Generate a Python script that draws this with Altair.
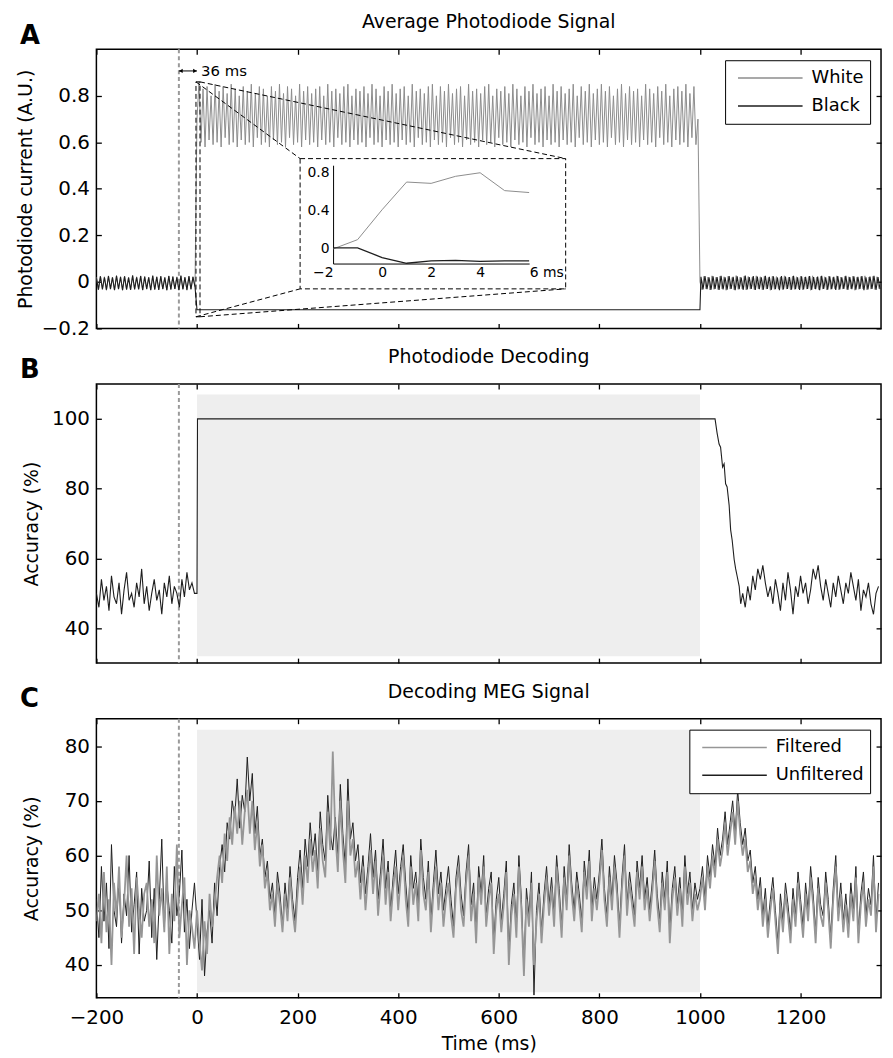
import altair as alt
import pandas as pd

FONT = "DejaVu Sans"

# ---------------- shared axis values ----------------
X_DOMAIN = [-200, 1360]
X_TICKS = [-200, 0, 200, 400, 600, 800, 1000, 1200]
MARK_T = -36  # dashed reference line (ms)

A_DOMAIN = [-0.2, 1.0]
A_TICKS = [-0.2, 0, 0.2, 0.4, 0.6, 0.8]
B_DOMAIN = [30, 110]
B_TICKS = [40, 60, 80, 100]
C_DOMAIN = [34, 85]
C_TICKS = [40, 50, 60, 70, 80]

# ---------------- Panel A: photodiode signal (4 ms samples) ----------------
a_pre_white = [0.02,-0.035,0.025,-0.03,0.022,-0.036,0.026,-0.032,0.021,-0.034,
               0.027,-0.03,0.023,-0.037,0.025,-0.031,0.02,-0.035,0.028,-0.033,
               0.022,-0.03,0.026,-0.036,0.024,-0.032,0.021,-0.034,0.027,-0.031,
               0.023,-0.035,0.025,-0.03,0.02,-0.037,0.026,-0.033,0.024,-0.031,
               0.022,-0.034,0.027,-0.03,0.021,-0.036,0.025,-0.032,0.023,-0.02]
a_pre_black = [0.018,-0.033,0.024,-0.032,0.02,-0.034,0.025,-0.03,0.019,-0.036,
               0.026,-0.031,0.021,-0.035,0.024,-0.033,0.018,-0.034,0.027,-0.031,
               0.02,-0.032,0.025,-0.035,0.022,-0.03,0.019,-0.036,0.026,-0.033,
               0.021,-0.034,0.024,-0.031,0.018,-0.035,0.025,-0.032,0.022,-0.03,
               0.02,-0.036,0.026,-0.032,0.019,-0.034,0.024,-0.031,0.021,-0.02]
a_on_white = [0.70,0.86,0.60,0.83,0.58,0.84,0.61,0.80,0.59,0.85,0.60,0.82,0.58,0.84,0.62,0.81,0.59,0.85,0.60,0.83,
              0.58,0.80,0.61,0.84,0.59,0.82,0.60,0.85,0.58,0.81,0.62,0.84,0.59,0.83,0.60,0.80,0.58,0.84,0.61,0.82,
              0.59,0.85,0.60,0.81,0.58,0.84,0.62,0.83,0.59,0.80,0.60,0.85,0.58,0.82,0.61,0.84,0.59,0.81,0.60,0.83,
              0.58,0.84,0.61,0.80,0.59,0.85,0.60,0.82,0.58,0.83,0.62,0.81,0.59,0.84,0.60,0.85,0.58,0.80,0.61,0.83,
              0.59,0.82,0.60,0.84,0.58,0.81,0.62,0.85,0.59,0.83,0.60,0.80,0.58,0.84,0.61,0.82,0.59,0.85,0.60,0.81,
              0.58,0.83,0.61,0.84,0.59,0.80,0.60,0.85,0.58,0.82,0.62,0.83,0.59,0.81,0.60,0.84,0.58,0.85,0.61,0.80,
              0.59,0.84,0.60,0.82,0.58,0.85,0.62,0.81,0.59,0.83,0.60,0.84,0.58,0.80,0.61,0.85,0.59,0.82,0.60,0.83,
              0.58,0.81,0.61,0.84,0.59,0.85,0.60,0.80,0.58,0.83,0.62,0.82,0.59,0.84,0.60,0.81,0.58,0.85,0.61,0.83,
              0.59,0.80,0.60,0.84,0.58,0.82,0.62,0.85,0.59,0.81,0.60,0.83,0.58,0.84,0.61,0.80,0.59,0.85,0.60,0.82,
              0.58,0.84,0.61,0.81,0.59,0.83,0.60,0.85,0.58,0.80,0.62,0.84,0.59,0.82,0.60,0.85,0.58,0.81,0.61,0.83,
              0.59,0.85,0.60,0.82,0.58,0.84,0.62,0.80,0.59,0.83,0.60,0.85,0.58,0.81,0.61,0.84,0.59,0.82,0.60,0.83,
              0.58,0.80,0.61,0.85,0.59,0.83,0.60,0.81,0.58,0.84,0.62,0.82,0.59,0.85,0.60,0.80,0.58,0.83,0.61,0.84,
              0.59,0.82,0.60,0.85,0.58,0.81,0.62,0.84,0.59,0.70]
a_on_black_t = [0, 1000]
a_on_black = [-0.12, -0.12]
a_post_white = [0.0,-0.034,0.024,-0.03,0.021,-0.035,0.026,-0.032,0.02,-0.033,
                0.025,-0.03,0.022,-0.036,0.024,-0.031,0.019,-0.034,0.027,-0.032,
                0.021,-0.03,0.025,-0.035,0.023,-0.031,0.02,-0.033,0.026,-0.03,
                0.022,-0.034,0.024,-0.031,0.019,-0.036,0.025,-0.032,0.023,-0.03,
                0.021,-0.033,0.026,-0.031,0.02,-0.035,0.024,-0.032,0.022,-0.03,
                0.025,-0.034,0.021,-0.031,0.023,-0.036,0.026,-0.03,0.02,-0.033,
                0.024,-0.031,0.022,-0.035,0.025,-0.032,0.019,-0.03,0.026,-0.034,
                0.021,-0.031,0.024,-0.033,0.022,-0.03,0.025,-0.036,0.02,-0.032,
                0.023,-0.03,0.026,-0.034,0.021,-0.031,0.024,-0.033,0.022,-0.03]
a_post_black = [0.022,-0.032,0.025,-0.031,0.02,-0.034,0.024,-0.03,0.021,-0.035,
                0.026,-0.032,0.02,-0.033,0.025,-0.03,0.022,-0.036,0.024,-0.031,
                0.019,-0.034,0.027,-0.032,0.021,-0.03,0.025,-0.035,0.023,-0.031,
                0.02,-0.033,0.026,-0.03,0.022,-0.034,0.024,-0.031,0.019,-0.036,
                0.025,-0.032,0.023,-0.03,0.021,-0.033,0.026,-0.031,0.02,-0.035,
                0.024,-0.032,0.022,-0.03,0.025,-0.034,0.021,-0.031,0.023,-0.036,
                0.026,-0.03,0.02,-0.033,0.024,-0.031,0.022,-0.035,0.025,-0.032,
                0.019,-0.03,0.026,-0.034,0.021,-0.031,0.024,-0.033,0.022,-0.03,
                0.025,-0.036,0.02,-0.032,0.023,-0.03,0.026,-0.034,0.021,-0.031]

# inset (ms around onset)
inset_t = [-2, -1, 0, 1, 2, 3, 4, 5, 6]
inset_white = [0.0, 0.097, 0.41, 0.70, 0.686, 0.76, 0.797, 0.61, 0.59]
inset_black = [0.01, 0.01, -0.09, -0.15, -0.125, -0.12, -0.13, -0.125, -0.125]
INSET_X_DOMAIN = [-2, 6]
INSET_Y_DOMAIN = [-0.153, 0.876]
INSET_X_TICKS = [-2, 0, 2, 4, 6]
INSET_Y_TICKS = [0, 0.4, 0.8]

# zoom annotation in panel A data space
zoom_src = {"t": -2, "t2": 6, "v": -0.15, "v2": 0.86}
zoom_box = {"t": 205, "t2": 733, "v": -0.03, "v2": 0.53}
arrow_v = 0.907

# ---------------- Panel B: photodiode decoding ----------------
b_pre = [50,46,54,48,52,45,55,49,47,53,44,51,56,48,50,46,53,49,57,47,
         52,45,50,54,48,51,44,53,49,55,47,52,50,46,54,49,56,51,53,50]   # t=-200..-5 (5 ms)
b_step_t = [0, 1, 1030, 1034, 1038, 1041, 1045, 1048, 1051, 1054, 1058, 1061, 1064, 1068, 1071, 1074, 1078, 1081]
b_step_v = [50, 100, 100, 96, 92.8, 91.9, 86.2, 87.1, 81.4, 80.5, 75.3, 68.2, 65.3, 59.7, 57, 54.9, 52, 47]
b_post = [50,46,52,48,55,51,57,54,58,53,49,52,47,54,50,45,53,48,56,51,
          44,52,49,55,50,53,47,51,57,54,58,52,48,54,50,46,53,49,55,51,
          47,53,50,56,52,48,54,45,51,49,53,47,44,50,52]                 # t=1085.. (5 ms)

# ---------------- Panel C: MEG decoding (5 ms samples from -200) ----------------
c_unfiltered = [52,45,58,48,55,43,62,50,47,56,44,53,49,60,46,51,57,42,54,48,
                50,59,45,54,41,52,63,47,55,50,44,58,49,53,61,46,52,43,50,55,
                48,41,52,38,46,50,44,55,49,58,62,57,66,63,70,67,74,65,71,68,
                78,70,75,64,69,60,63,56,59,52,55,49,57,53,47,55,50,58,52,48,
                56,61,54,63,58,66,60,64,57,68,62,59,71,64,61,67,60,73,64,58,
                74,63,66,59,62,55,60,53,58,64,56,61,52,57,63,54,59,50,56,61,
                53,58,62,55,49,60,54,57,51,63,56,52,59,48,55,61,53,57,50,54,
                58,52,47,56,60,53,49,57,62,51,55,46,58,53,60,49,54,57,44,52,
                56,48,53,59,42,51,55,47,60,52,39,54,49,57,34.5,50,55,46,53,58,
                51,56,49,60,54,47,58,52,62,55,50,57,53,48,59,54,61,50,56,52,
                57,63,54,49,58,52,60,55,47,56,62,51,57,53,49,59,54,60,52,56,
                50,55,61,53,48,57,52,59,46,54,58,51,56,49,60,53,57,50,55,52,
                54,58,52,60,56,62,58,65,60,63,68,62,66,70,64,72,66,62,65,59,
                61,55,58,52,56,49,54,47,52,56,50,44,53,48,55,51,46,54,49,57,
                52,47,55,50,58,53,46,56,51,49,57,52,45,54,60,50,55,48,53,47,
                55,50,58,46,53,57,49,54,51,60,48,55]
c_filtered = [48,53,44,57,46,52,40,55,49,58,45,51,60,47,54,42,56,50,45,53,
              55,47,52,44,60,49,54,46,58,42,53,48,62,45,51,56,40,50,47,43,
              50,44,39,48,42,53,47,51,56,60,55,64,59,67,62,69,64,70,62,68,
              72,64,70,61,66,58,62,54,57,50,53,47,55,51,46,53,48,56,50,46,
              53,58,51,60,55,63,57,61,54,65,59,56,68,61,79,64,57,70,61,55,
              70,60,63,56,59,52,58,50,56,61,53,59,49,55,60,51,57,48,54,58,
              50,56,60,52,47,58,51,55,48,61,53,50,57,46,53,58,50,55,47,52,
              55,49,45,54,58,50,47,55,60,48,53,44,56,51,58,47,52,55,42,50,
              53,46,51,57,40,49,53,45,58,50,38,52,47,55,40,48,53,44,51,56,
              49,54,47,58,52,45,56,50,60,53,48,55,51,46,57,52,59,48,54,50,
              55,61,52,47,56,50,58,53,45,54,60,49,55,51,47,57,52,58,50,54,
              48,53,59,51,46,55,50,57,44,52,56,49,54,47,58,51,55,48,53,50,
              52,56,50,58,54,60,56,63,58,61,66,60,64,68,62,70,64,60,63,57,
              59,53,56,50,54,47,52,45,50,54,48,42,51,46,53,49,44,52,47,55,
              50,45,53,48,56,51,44,54,49,47,55,50,43,52,58,48,53,46,51,45,
              53,48,56,44,51,55,47,52,49,58,46,53]

STIM_SHADE = [0, 1000]
B_SHADE = [32, 107]
C_SHADE = [35, 83]


def seq(start, step, n):
    return [start + step * i for i in range(n)]


def frame(series, ts, vs):
    return pd.DataFrame({"series": series, "t": ts, "v": vs})


# ---------------- layout & style ----------------
W, H = 790, 281
BLACK = "#1e1e1e"
GREY = "#8c8c8c"

xs = alt.Scale(domain=X_DOMAIN, nice=False, zero=False)

AX = dict(domain=False, grid=False, tickColor="black", tickWidth=1.3, tickSize=5,
          offset=-5, labelFont=FONT, labelFontSize=20, labelColor="black", labelFlush=False)
TITLE_STYLE = dict(titleFont=FONT, titleFontSize=19, titleFontWeight="normal", titleColor="black")


def ax_bottom(labels, title_y=None):
    kw = dict(AX, orient="bottom", values=X_TICKS, format="d", labels=labels, labelPadding=10)
    if title_y is not None:
        kw.update(TITLE_STYLE, titleY=title_y, titleBaseline="alphabetic")
    return alt.Axis(**kw)


def ax_left(ticks, title_x, fmt):
    return alt.Axis(**AX, orient="left", values=ticks, format=fmt, labelPadding=7,
                    **TITLE_STYLE, titleX=title_x, titleY=H / 2,
                    titleBaseline="alphabetic", titleAlign="center")


def ax_top():
    return alt.Axis(**AX, orient="top", values=X_TICKS, labels=False)


def ax_right(ticks):
    return alt.Axis(**AX, orient="right", values=ticks, labels=False)


def legend():
    return alt.Legend(title=None, orient="top-right", offset=11, strokeColor="black",
                      fillColor="white", padding=6, cornerRadius=0, symbolType="stroke",
                      symbolSize=4225, symbolStrokeWidth=1.5, clipHeight=24, rowPadding=4,
                      symbolOffset=6, labelOffset=8, labelFont=FONT, labelFontSize=18,
                      labelColor="black")


def panel_title(text):
    return alt.Chart(pd.DataFrame({"s": [text]})).mark_text(
        align="center", baseline="alphabetic", font=FONT, fontSize=19, color="black"
    ).encode(text="s:N", x=alt.value(W / 2), y=alt.value(-21))


def dashed_rule():
    return alt.Chart(pd.DataFrame({"t": [MARK_T]})).mark_rule(
        color="#9a9a9a", strokeDash=[4, 3], strokeWidth=2
    ).encode(x=alt.X("t:Q", scale=xs, axis=None))


def helper_axes(ys, ticks, ydom):
    return alt.Chart(pd.DataFrame({"t": X_DOMAIN, "v": ydom})).mark_point(opacity=0).encode(
        x=alt.X("t:Q", scale=xs, axis=ax_top(), title=None),
        y=alt.Y("v:Q", scale=ys, axis=ax_right(ticks), title=None),
    )


def letter(ch, dy):
    return alt.Chart(pd.DataFrame({"s": [ch]})).mark_text(
        align="left", baseline="alphabetic", font=FONT, fontSize=26, fontWeight="bold", color="black"
    ).encode(text="s:N", x=alt.value(-77), y=alt.value(dy))


def shade(ys, vv):
    d = pd.DataFrame({"t": [STIM_SHADE[0]], "t2": [STIM_SHADE[1]], "v": [vv[0]], "v2": [vv[1]]})
    return alt.Chart(d).mark_rect(color="#eeeeee").encode(
        x=alt.X("t:Q", scale=xs, axis=None), x2="t2:Q",
        y=alt.Y("v:Q", scale=ys, axis=None), y2="v2:Q")


# ---------------- Panel A ----------------
ysA = alt.Scale(domain=A_DOMAIN, nice=False, zero=False)
dfAw = pd.concat([
    frame("White", seq(-200, 4, len(a_pre_white)), a_pre_white),
    frame("White", seq(0, 4, len(a_on_white)), a_on_white),
    frame("White", seq(1000, 4, len(a_post_white)), a_post_white),
])
dfAb = pd.concat([
    frame("Black", seq(-200, 4, len(a_pre_black)), a_pre_black),
    frame("Black", a_on_black_t, a_on_black),
    frame("Black", seq(1002, 4, len(a_post_black)), a_post_black),
])
colorA = alt.Color("series:N", scale=alt.Scale(domain=["White", "Black"], range=[GREY, BLACK]),
                   legend=legend())

lineAw = alt.Chart(dfAw).mark_line(strokeWidth=1, clip=True).encode(
    x=alt.X("t:Q", scale=xs, axis=ax_bottom(False), title=None),
    y=alt.Y("v:Q", scale=ysA, axis=ax_left(A_TICKS, -70.5, "~g"), title="Photodiode current (A.U.)"),
    color=colorA)
lineAb = alt.Chart(dfAb).mark_line(strokeWidth=1.1, clip=True).encode(
    x=alt.X("t:Q", scale=xs, axis=None), y=alt.Y("v:Q", scale=ysA, axis=None), color=colorA)

rect_df = pd.DataFrame([zoom_src, zoom_box])
zoom_rects = alt.Chart(rect_df).mark_rect(fillOpacity=0, stroke="black", strokeDash=[5, 3],
                                          strokeWidth=1).encode(
    x=alt.X("t:Q", scale=xs, axis=None), x2="t2:Q",
    y=alt.Y("v:Q", scale=ysA, axis=None), y2="v2:Q")
conn_df = pd.DataFrame({
    "t": [zoom_src["t"], zoom_src["t2"], zoom_src["t"], zoom_src["t2"]],
    "v": [zoom_src["v2"], zoom_src["v2"], zoom_src["v"], zoom_src["v"]],
    "t2": [zoom_box["t"], zoom_box["t2"], zoom_box["t"], zoom_box["t2"]],
    "v2": [zoom_box["v2"], zoom_box["v2"], zoom_box["v"], zoom_box["v"]],
})
connectors = alt.Chart(conn_df).mark_rule(stroke="black", strokeDash=[5, 3], strokeWidth=1).encode(
    x=alt.X("t:Q", scale=xs, axis=None), x2="t2:Q",
    y=alt.Y("v:Q", scale=ysA, axis=None), y2="v2:Q")

arrow = alt.Chart(pd.DataFrame({"t": [MARK_T], "t2": [0], "v": [arrow_v]})).mark_rule(
    color="black", strokeWidth=1).encode(
    x=alt.X("t:Q", scale=xs, axis=None), x2="t2:Q", y=alt.Y("v:Q", scale=ysA, axis=None))
heads = alt.Chart(pd.DataFrame({"t": [MARK_T + 4, -4], "v": [arrow_v, arrow_v],
                                "shape": ["triangle-left", "triangle-right"]})).mark_point(
    filled=True, size=18, color="black", opacity=1).encode(
    x=alt.X("t:Q", scale=xs, axis=None), y=alt.Y("v:Q", scale=ysA, axis=None),
    shape=alt.Shape("shape:N", scale=None))
arrow_txt = alt.Chart(pd.DataFrame({"t": [8], "v": [arrow_v], "s": ["36 ms"]})).mark_text(
    align="left", baseline="middle", font=FONT, fontSize=15, color="black").encode(
    x=alt.X("t:Q", scale=xs, axis=None), y=alt.Y("v:Q", scale=ysA, axis=None), text="s:N")

mainA = alt.layer(
    dashed_rule(), lineAw, lineAb, zoom_rects, connectors, arrow, heads, arrow_txt,
    helper_axes(ysA, A_TICKS, A_DOMAIN), letter("A", -5), panel_title("Average Photodiode Signal")
).resolve_axis(x="independent", y="independent")

xsI = alt.Scale(domain=INSET_X_DOMAIN, range=[238.3, 435.7], nice=False, zero=False)
ysI = alt.Scale(domain=INSET_Y_DOMAIN, range=[215.7, 116.7], nice=False, zero=False)
inset_x_axis = alt.Axis(
    orient="bottom", offset=-(H - 215.7), values=INSET_X_TICKS, format="~g",
    labelExpr="datum.value == 6 ? '6 ms' : datum.label",
    labelAlign={"condition": [{"test": "datum.value == -2", "value": "right"},
                              {"test": "datum.value == 6", "value": "left"}],
                "value": "center"},
    labelFlush=False, domain=True, domainColor="black", domainWidth=1, ticks=False, grid=False,
    labelPadding=2, labelFont=FONT, labelFontSize=14, labelColor="black")
inset_y_axis = alt.Axis(
    orient="left", offset=-238.3, values=INSET_Y_TICKS, format="~g", domain=True,
    domainColor="black", domainWidth=1, ticks=False, grid=False, labelPadding=4,
    labelFont=FONT, labelFontSize=14, labelColor="black")
insetW = alt.Chart(frame("White", inset_t, inset_white)).mark_line(color=GREY, strokeWidth=1).encode(
    x=alt.X("t:Q", scale=xsI, axis=inset_x_axis, title=None),
    y=alt.Y("v:Q", scale=ysI, axis=inset_y_axis, title=None))
insetB = alt.Chart(frame("Black", inset_t, inset_black)).mark_line(color=BLACK, strokeWidth=1.3).encode(
    x=alt.X("t:Q", scale=xsI, axis=None), y=alt.Y("v:Q", scale=ysI, axis=None))
insetA = alt.layer(insetW, insetB).resolve_axis(x="independent", y="independent")

panelA = alt.layer(mainA, insetA).resolve_scale(x="independent", y="independent").resolve_axis(
    x="independent", y="independent").properties(width=W, height=H)

# ---------------- Panel B ----------------
ysB = alt.Scale(domain=B_DOMAIN, nice=False, zero=False)
dfB = pd.concat([
    frame("acc", seq(-200, 5, len(b_pre)), b_pre),
    frame("acc", b_step_t, b_step_v),
    frame("acc", seq(1085, 5, len(b_post)), b_post),
])
lineB = alt.Chart(dfB).mark_line(color=BLACK, strokeWidth=1.1, clip=True).encode(
    x=alt.X("t:Q", scale=xs, axis=ax_bottom(False), title=None),
    y=alt.Y("v:Q", scale=ysB, axis=ax_left(B_TICKS, -64, "d"), title="Accuracy (%)"))
panelB = alt.layer(
    shade(ysB, B_SHADE), dashed_rule(), lineB, helper_axes(ysB, B_TICKS, B_DOMAIN), letter("B", -6),
    panel_title("Photodiode Decoding")
).resolve_axis(x="independent", y="independent").properties(width=W, height=H)

# ---------------- Panel C ----------------
ysC = alt.Scale(domain=C_DOMAIN, nice=False, zero=False)
dfCu = frame("Unfiltered", seq(-200, 5, len(c_unfiltered)), c_unfiltered)
dfCf = frame("Filtered", seq(-200, 5, len(c_filtered)), c_filtered)
colorC = alt.Color("series:N", scale=alt.Scale(domain=["Filtered", "Unfiltered"], range=["#969696", BLACK]),
                   legend=legend())
lineCu = alt.Chart(dfCu).mark_line(strokeWidth=1, clip=True).encode(
    x=alt.X("t:Q", scale=xs, axis=ax_bottom(True, 57), title="Time (ms)"),
    y=alt.Y("v:Q", scale=ysC, axis=ax_left(C_TICKS, -64, "d"), title="Accuracy (%)"),
    color=colorC)
lineCf = alt.Chart(dfCf).mark_line(strokeWidth=1.8, clip=True).encode(
    x=alt.X("t:Q", scale=xs, axis=None), y=alt.Y("v:Q", scale=ysC, axis=None), color=colorC)
panelC = alt.layer(
    shade(ysC, C_SHADE), dashed_rule(), lineCu, lineCf, helper_axes(ysC, C_TICKS, C_DOMAIN),
    letter("C", -12), panel_title("Decoding MEG Signal")
).resolve_axis(x="independent", y="independent").properties(width=W, height=H)

chart = alt.vconcat(panelA, panelB, panelC, spacing=56, bounds="flush").resolve_scale(
    color="independent"
).configure_view(
    stroke="black", strokeWidth=1.5
).properties(padding={"left": 7, "top": 1, "right": 0, "bottom": 0})

chart.save("out.html", embed_options={"renderer": "svg", "actions": False})
